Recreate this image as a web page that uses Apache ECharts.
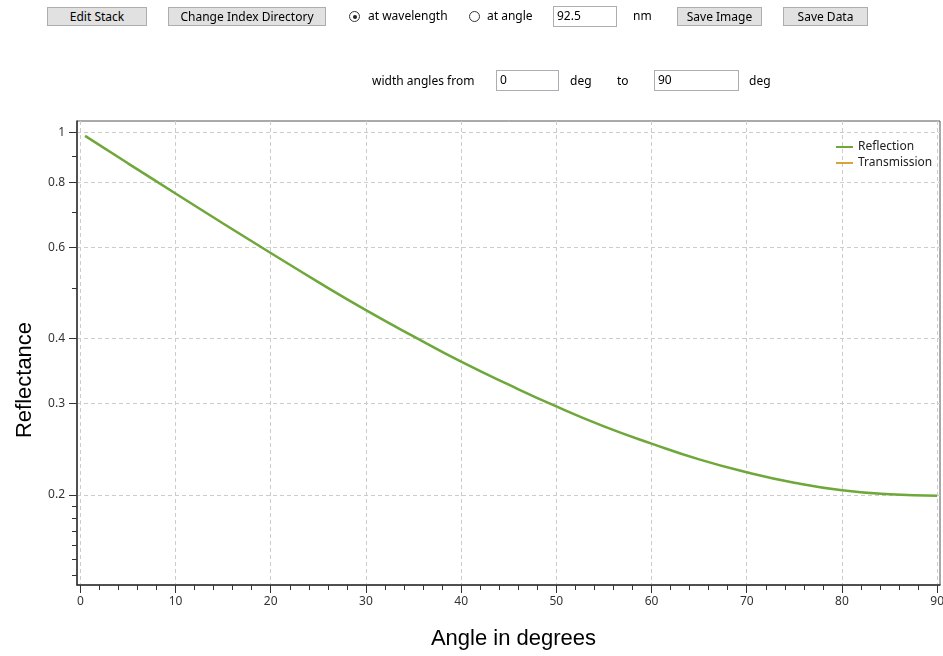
<!DOCTYPE html>
<html>
<head>
<meta charset="utf-8">
<script src="https://cdn.jsdelivr.net/npm/echarts@6/dist/echarts.min.js"></script>
<style>
  body { margin: 0; background: #fff; font-family: "Noto Sans", "Open Sans", sans-serif; }
  #main { position: absolute; left: 0; top: 0; width: 943px; height: 656px; }
  .ui { position: absolute; font-size: 12px; color: #000; white-space: nowrap; line-height: 20px; }
  .btn { background: #e1e1e1; border: 1px solid #adadad; text-align: center; height: 19px; box-sizing: border-box; line-height: 17px; }
  .box { background: #fff; border: 1px solid #abadb3; height: 21px; box-sizing: border-box; padding-left: 3px; line-height: 18px; }
  .radio { width: 11px; height: 11px; border: 1px solid #333; border-radius: 50%; box-sizing: border-box; }
  .dot { position: absolute; left: 2.5px; top: 2.5px; width: 4px; height: 4px; border-radius: 50%; background: #222; }
</style>
</head>
<body>
<div id="main"></div>
<div class="ui btn" style="left:47px;top:7px;width:100px;">Edit Stack</div>
<div class="ui btn" style="left:168px;top:7px;width:158px;">Change Index Directory</div>
<div class="ui radio" style="left:349px;top:11px;"><div class="dot"></div></div>
<div class="ui" style="left:368px;top:6px;">at wavelength</div>
<div class="ui radio" style="left:469px;top:11px;"></div>
<div class="ui" style="left:487px;top:6px;">at angle</div>
<div class="ui box" style="left:553px;top:6px;width:64px;">92.5</div>
<div class="ui" style="left:633px;top:6px;">nm</div>
<div class="ui btn" style="left:677px;top:7px;width:85px;">Save Image</div>
<div class="ui btn" style="left:783px;top:7px;width:85px;">Save Data</div>
<div class="ui" style="left:372px;top:71px;">width angles from</div>
<div class="ui box" style="left:496px;top:70px;width:63px;">0</div>
<div class="ui" style="left:570px;top:71px;">deg</div>
<div class="ui" style="left:617px;top:71px;">to</div>
<div class="ui box" style="left:654px;top:70px;width:85px;">90</div>
<div class="ui" style="left:749px;top:71px;">deg</div>
<script>
var chartDom = document.getElementById('main');
var myChart = echarts.init(chartDom);
var option;

// angle in degrees
var angles = [0.5, 5, 10, 15, 20, 25, 30, 35, 40, 45, 50, 55, 60, 65, 70, 75, 80, 85, 90];
// reflectance (log scale)
var reflection = [0.984, 0.871, 0.762, 0.667, 0.585, 0.514, 0.454, 0.404, 0.361, 0.326, 0.296, 0.271, 0.251, 0.234, 0.221, 0.211, 0.204, 0.2004, 0.1991];
// transmission is not visible on this plot
var transmission = [];

var xLabels = [0, 10, 20, 30, 40, 50, 60, 70, 80, 90];
var yLabels = [1, 0.8, 0.6, 0.4, 0.3, 0.2];
var yMinorTicks = [0.9, 0.7, 0.5, 0.19, 0.18, 0.17, 0.16, 0.15, 0.14];

var xMinor = [];
for (var i = 0; i <= 90; i += 2) {
  if (i % 10 !== 0) xMinor.push(i);
}
function lg(v) { return Math.log10(v); }

var yMin = lg(0.134), yMax = lg(1.051);
var labelStyle = { color: '#333', fontSize: 12, fontFamily: 'Noto Sans' };

option = {
  animation: false,
  grid: {
    left: 77, right: 3, top: 121, bottom: 71,
    outerBoundsMode: 'none', containLabel: false,
    show: true, borderColor: '#555', borderWidth: 1
  },
  legend: {
    orient: 'vertical', left: 831, top: 136,
    icon: 'rect', itemWidth: 17, itemHeight: 2, itemGap: 4,
    textStyle: { color: '#222', fontSize: 12, fontFamily: 'Noto Sans' },
    data: ['Reflection', 'Transmission']
  },
  xAxis: [
    {
      type: 'value', min: -0.35, max: 90.3,
      name: 'Angle in degrees', nameLocation: 'middle', nameGap: 43,
      nameTextStyle: { fontSize: 22, color: '#000', fontFamily: 'Liberation Sans', padding: [0, 0, 0, 10] },
      axisLine: { onZero: false, lineStyle: { color: '#333', width: 1.5 } },
      axisTick: { length: 8, customValues: xLabels, lineStyle: { color: '#333' } },
      axisLabel: Object.assign({ customValues: xLabels, margin: 11 }, labelStyle),
      splitLine: { show: true, lineStyle: { color: '#ccc', type: [4, 3] } }
    },
    {
      type: 'value', min: -0.35, max: 90.3, position: 'bottom',
      axisLine: { show: false, onZero: false },
      axisTick: { length: 5, customValues: xMinor, lineStyle: { color: '#333' } },
      axisLabel: { show: false },
      splitLine: { show: false }
    }
  ],
  yAxis: [
    {
      type: 'value', min: yMin, max: yMax,
      name: 'Reflectance', nameLocation: 'middle', nameGap: 41,
      nameTextStyle: { fontSize: 22, color: '#000', fontFamily: 'Liberation Sans', padding: [0, 54, 0, 0] },
      axisLine: { show: true, onZero: false, lineStyle: { color: '#333', width: 1.5 } },
      axisTick: { length: 8, customValues: yLabels.map(lg), lineStyle: { color: '#333' } },
      axisLabel: Object.assign({
        customValues: yLabels.map(lg), margin: 12,
        formatter: function (v) { return String(+Math.pow(10, v).toFixed(2)); }
      }, labelStyle),
      splitLine: { show: true, lineStyle: { color: '#ccc', type: [4, 3] } }
    },
    {
      type: 'value', min: yMin, max: yMax, position: 'left',
      axisLine: { show: false, onZero: false },
      axisTick: { show: true, length: 5, customValues: yMinorTicks.map(lg), lineStyle: { color: '#333' } },
      axisLabel: { show: false },
      splitLine: { show: false }
    }
  ],
  series: [
    {
      name: 'Reflection', type: 'line', smooth: 0.5, symbol: 'none',
      color: '#6ea83a', lineStyle: { width: 2.5 },
      data: angles.map(function (a, i) { return [a, lg(reflection[i])]; })
    },
    {
      name: 'Transmission', type: 'line', symbol: 'none',
      color: '#d8a43a', lineStyle: { width: 2.5 },
      data: transmission
    }
  ]
};

option && myChart.setOption(option);
</script>
</body>
</html>
